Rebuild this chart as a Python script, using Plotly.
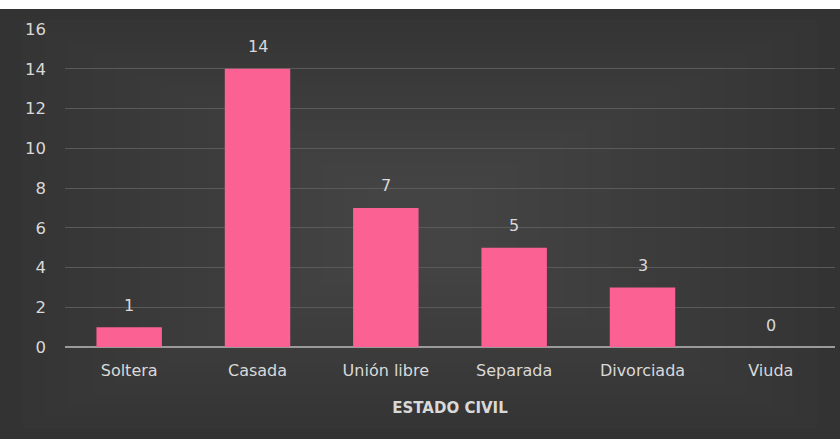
import plotly.graph_objects as go

categorias = ["Soltera", "Casada", "Unión libre", "Separada", "Divorciada", "Viuda"]
valores = [1, 14, 7, 5, 3, 0]
y_ticks = [0, 2, 4, 6, 8, 10, 12, 14, 16]

W, H = 840, 439
FONT = "DejaVu Sans, sans-serif"
TXT = "#d9d9d9"
L, R, T, B = 65, 5, 29, 92.3
PW, PH = W - L - R, H - T - B

fig = go.Figure()
fig.add_trace(go.Bar(
    x=categorias,
    y=valores,
    marker=dict(color="#fb6192", line=dict(width=0)),
    width=0.51,
    hoverinfo="x+y",
))

# value labels above each bar
for c, v in zip(categorias, valores):
    fig.add_annotation(x=c, y=v, text=str(v), showarrow=False,
                       yanchor="middle", yshift=22,
                       font=dict(color=TXT, size=16, family=FONT))

# dark card with a soft lighter centre
shapes = [dict(type="rect", xref="paper", yref="paper", layer="below",
               x0=-L / PW, x1=1 + R / PW,
               y0=-B / PH, y1=1 + 20 / PH,
               fillcolor="#333333", line=dict(width=0))]
n = 16
for i in range(1, n + 1):
    dx = i * 23 / PW
    dy = i * 11 / PH
    shapes.append(dict(type="rect", xref="paper", yref="paper", layer="below",
                       x0=-L / PW + dx, x1=1 + R / PW - dx,
                       y0=-B / PH + dy, y1=1 + 20 / PH - dy,
                       fillcolor="rgba(85,85,85,0.06)", line=dict(width=0)))
fig.update_layout(shapes=shapes)

fig.update_layout(
    width=W, height=H,
    margin=dict(l=L, r=R, t=T, b=B),
    paper_bgcolor="white",
    plot_bgcolor="rgba(0,0,0,0)",
    showlegend=False,
    bargap=0.49,
    font=dict(family=FONT, color=TXT, size=16),
    xaxis=dict(
        title=dict(text="<b>ESTADO CIVIL</b>", font=dict(size=15, color=TXT, family=FONT), standoff=23),
        tickfont=dict(size=16, color=TXT, family=FONT),
        showgrid=False, showline=False, ticks="",
        ticklabelstandoff=12,
    ),
    yaxis=dict(
        range=[0, 16],
        tickvals=y_ticks,
        tickfont=dict(size=16.5, color=TXT, family=FONT),
        showgrid=True, gridcolor="#5a5a5a", gridwidth=1,
        zeroline=True, zerolinecolor="#9a9a9a", zerolinewidth=1.5,
        ticks="", ticklabelstandoff=18,
    ),
)

fig.write_html("out.html")
